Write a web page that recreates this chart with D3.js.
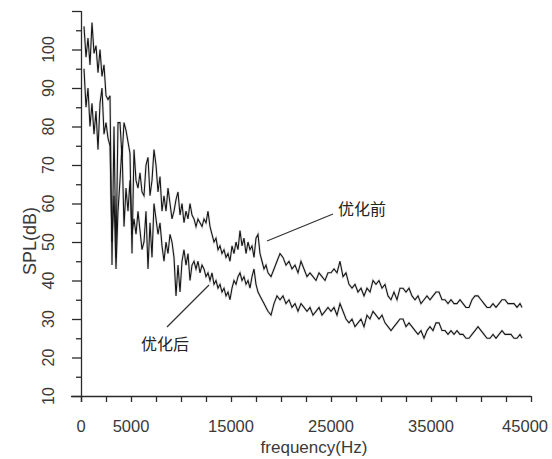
<!DOCTYPE html>
<html><head><meta charset="utf-8">
<script src="https://cdn.jsdelivr.net/npm/d3@7/dist/d3.min.js"></script>
<style>
html,body{margin:0;padding:0;background:#fff;}
svg{display:block;}
</style>
</head><body>
<svg id="chart" width="552" height="459"></svg>
<script>
// ---- data ----
const frequencies = [
  300,500,700,900,1100,1300,1500,1700,1900,2100,
  2300,2500,2700,2900,3100,3300,3500,3700,3900,4100,
  4300,4500,4700,4900,5100,5300,5500,5700,5900,6100,
  6300,6500,6700,6900,7100,7300,7500,7700,7900,8100,
  8300,8500,8700,8900,9100,9300,9500,9700,9900,10100,
  10300,10500,10700,10900,11100,11300,11500,11700,11900,12100,
  12300,12500,12700,12900,13100,13300,13500,13700,13900,14100,
  14300,14500,14700,14900,15100,15300,15500,15700,15900,16100,
  16300,16500,16700,16900,17100,17300,17500,17700,17900,18100,
  18300,18500,18700,
  19000,19300,19600,19900,20200,20500,20800,21100,21400,21700,
  22000,22300,22600,22900,23200,23500,23800,24100,24400,24700,
  25000,25300,25600,25900,26200,26500,26800,27100,27400,27700,
  28000,28300,28600,28900,29200,29500,29800,30100,30400,30700,
  31000,31300,31600,31900,32200,32500,32800,33100,33400,33700,
  34000,34300,34600,34900,35200,35500,35800,36100,36400,36700,
  37000,37300,37600,37900,38200,38500,38800,39100,39400,39700,
  40000,40300,40600,40900,41200,41500,41800,42100,42400,42700,
  43000,43300,43600,43900,44100
];
// 优化前 (before optimization)
const splBefore = [
  106,98,103,96,107,99,101,94,100,93,
  96,88,87,88,44,80,46,81,81,72,
  81,79,76,73,47,74,66,64,68,63,
  62,70,72,62,66,74,70,63,67,58,
  62,58,64,60,56,58,61,63,57,60,
  55,58,56,60,57,56,54,56,55,54,
  56,55,58,54,52,50,51,48,49,47,
  48,46,47,45,49,47,50,48,53,49,
  51,47,50,48,49,46,51,52,47,45,
  43,44,42,
  41,43,45,47,46,44,45,43,44,42,
  45,43,41,42,41,40,42,41,40,42,
  42,43,42,45,41,42,39,38,39,37,
  38,36,38,37,40,39,40,38,39,36,
  35,37,35,38,38,37,38,36,35,36,
  34,35,36,35,36,37,37,35,35,34,
  35,34,34,35,34,33,33,35,36,36,
  35,34,33,33,34,33,34,35,35,34,
  34,34,33,34,33
];
// 优化后 (after optimization)
const splAfter = [
  95,85,90,80,86,78,84,74,86,90,
  78,81,77,75,50,62,43,58,66,75,
  54,64,58,66,52,56,52,58,53,48,
  50,58,43,55,46,60,56,52,55,49,
  45,50,47,52,50,46,36,44,37,45,
  48,44,47,40,44,45,43,45,42,44,
  43,41,42,40,42,39,40,38,39,37,
  38,36,37,35,38,40,39,41,42,40,
  41,39,40,38,41,43,39,37,36,35,
  34,33,32,
  31,34,36,35,36,34,35,33,34,32,
  34,33,32,33,31,32,33,31,32,33,
  32,33,31,34,32,30,29,30,28,29,
  30,28,31,30,32,31,30,31,29,28,
  27,28,29,30,30,28,29,28,27,26,
  27,25,27,28,27,29,29,27,27,26,
  27,26,27,26,26,25,25,26,27,28,
  27,26,25,25,26,25,26,27,26,26,
  26,25,25,26,25
];
const xTickValues = [0,2500,5000,7500,10000,12500,15000,17500,20000,22500,25000,27500,30000,32500,35000,37500,40000,42500,45000];
const xTickLabels = [0,5000,15000,25000,35000,45000];
const yTickValues = [10,15,20,25,30,35,40,45,50,55,60,65,70,75,80,85,90,95,100,105,110];
const yTickLabels = [10,20,30,40,50,60,70,80,90,100];
const xTitle = "frequency(Hz)";
const yTitle = "SPL(dB)";
const annotations = ["优化前","优化后"];

// ---- drawing ----
const svg = d3.select("#chart");
const x = d3.scaleLinear().domain([0,45000]).range([81,531]);
const y = d3.scaleLinear().domain([10,110]).range([396,11]);
const axisColor = "#2a2a2a";
const textColor = "#3a3a3a";
const font = "'Liberation Sans', Arial, sans-serif";

// series
const line = d3.line().x(d=>x(d[0])).y(d=>y(d[1]));
const dBefore = frequencies.map((f,i)=>[f,splBefore[i]]);
const dAfter = frequencies.map((f,i)=>[f,splAfter[i]]);
[dBefore,dAfter].forEach(d=>{
  svg.append("path").attr("d",line(d)).attr("fill","none")
    .attr("stroke","#999").attr("stroke-opacity",0.25).attr("stroke-width",2.6);
});
[dBefore,dAfter].forEach(d=>{
  svg.append("path").attr("d",line(d)).attr("fill","none")
    .attr("stroke","#151515").attr("stroke-width",1.1);
});

// x axis
const gx = svg.append("g").attr("transform","translate(0,396)")
  .call(d3.axisBottom(x).tickValues(xTickValues).tickSize(6).tickFormat(""));
gx.select(".domain").attr("d","M71,0.5H531").attr("stroke",axisColor).attr("stroke-width",1.3);
gx.selectAll(".tick line").attr("stroke",axisColor).attr("stroke-width",1.3);

svg.append("g").selectAll("text").data(xTickLabels).join("text")
  .attr("x",d=>d===45000 ? 548 : x(d)).attr("y",432)
  .attr("text-anchor",d=>d===45000 ? "end" : "middle")
  .attr("font-family",font).attr("font-size",16.5)
  .attr("fill",textColor).text(d=>d);

// y axis
const gy = svg.append("g").attr("transform","translate(81,0)")
  .call(d3.axisLeft(y).tickValues(yTickValues).tickFormat(""));
gy.select(".domain").attr("d","M0.5,11V402").attr("stroke",axisColor).attr("stroke-width",1.3);
gy.selectAll(".tick line").attr("x2",d=>d%10===0?-9:-5).attr("stroke",axisColor).attr("stroke-width",1.3);

svg.append("g").selectAll("text").data(yTickLabels).join("text")
  .attr("transform",d=>`translate(54,${y(d)}) rotate(-90)`)
  .attr("text-anchor","middle").attr("font-family",font).attr("font-size",16)
  .attr("fill",textColor).text(d=>d);

// titles
svg.append("text").attr("x",314).attr("y",453).attr("text-anchor","middle")
  .attr("font-family",font).attr("font-size",17).attr("fill",textColor).text(xTitle);
svg.append("text").attr("transform","translate(36,241) rotate(-90)").attr("text-anchor","middle")
  .attr("font-family",font).attr("font-size",18).attr("fill",textColor).text(yTitle);

// annotations
const cjk = "'Noto Sans CJK SC', sans-serif";
svg.append("line").attr("x1",267).attr("y1",241).attr("x2",333).attr("y2",214)
  .attr("stroke","#333").attr("stroke-width",1.2);
svg.append("text").attr("x",338).attr("y",215).attr("font-family",cjk).attr("font-size",16)
  .attr("fill","#222").text(annotations[0]);
svg.append("line").attr("x1",167).attr("y1",327).attr("x2",209).attr("y2",285)
  .attr("stroke","#333").attr("stroke-width",1.2);
svg.append("text").attr("x",141).attr("y",350).attr("font-family",cjk).attr("font-size",16)
  .attr("fill","#222").text(annotations[1]);
</script>
</body></html>
